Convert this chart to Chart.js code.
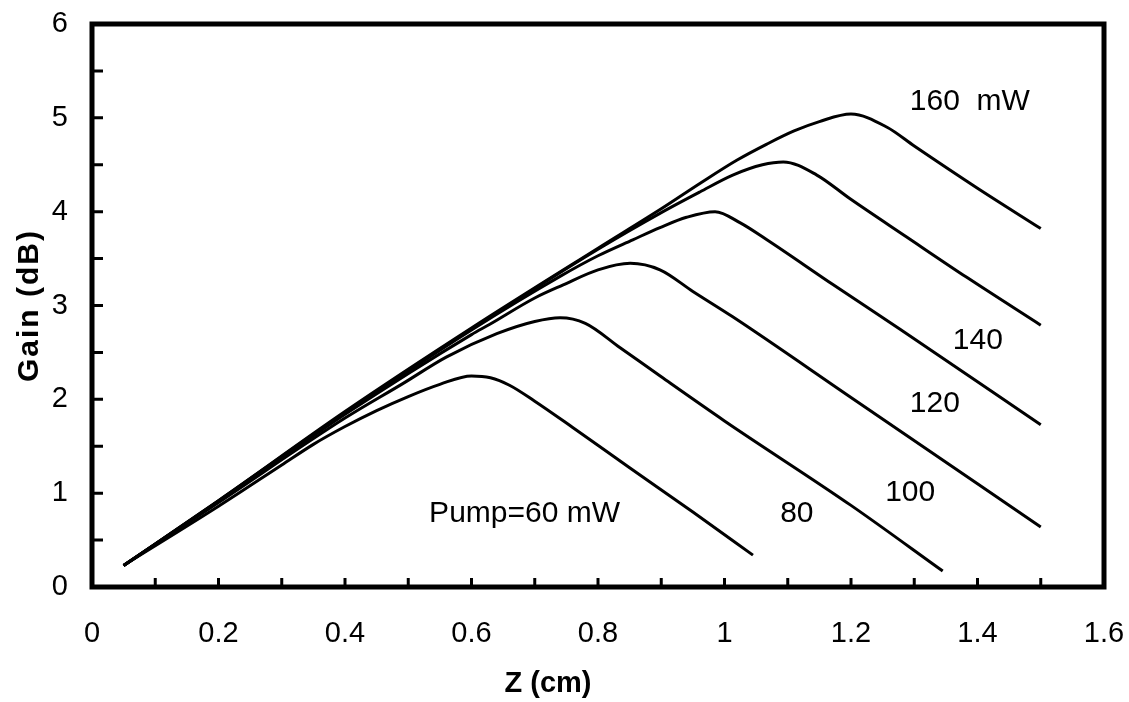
<!DOCTYPE html>
<html>
<head>
<meta charset="utf-8">
<script src="https://cdn.jsdelivr.net/npm/chart.js@4.4.1/dist/chart.umd.min.js"></script>
<style>
    html, body { margin: 0; padding: 0; background: #fff; }
    #wrap { width: 1129px; height: 702px; }
</style>
</head>
<body>
<div id="wrap"><canvas id="gainChart" width="1129" height="702"></canvas></div>
<script>
// Gain vs. propagation length for several pump powers

const z60  = [0.05, 0.2, 0.3, 0.35, 0.4, 0.45, 0.5, 0.55, 0.6, 0.63, 0.66, 0.7, 0.76, 0.85, 0.95, 1.045];
const g60  = [0.23, 0.86, 1.30, 1.52, 1.71, 1.88, 2.03, 2.16, 2.25, 2.23, 2.15, 1.98, 1.70, 1.27, 0.80, 0.34];

const z80  = [0.05, 0.2, 0.4, 0.492, 0.56, 0.64, 0.70, 0.74, 0.78, 0.835, 0.9, 1.0, 1.2, 1.345];
const g80  = [0.23, 0.90, 1.80, 2.17, 2.45, 2.70, 2.83, 2.87, 2.81, 2.55, 2.24, 1.77, 0.87, 0.17];

const z100 = [0.05, 0.2, 0.4, 0.6, 0.629, 0.7, 0.745, 0.8, 0.851, 0.898, 0.95, 1.013, 1.2, 1.5];
const g100 = [0.23, 0.91, 1.84, 2.69, 2.80, 3.08, 3.22, 3.38, 3.45, 3.38, 3.15, 2.88, 2.02, 0.64];

const z120 = [0.05, 0.2, 0.4, 0.6, 0.74, 0.8, 0.855, 0.898, 0.94, 0.985, 1.025, 1.067, 1.172, 1.277, 1.5];
const g120 = [0.23, 0.91, 1.85, 2.74, 3.31, 3.53, 3.70, 3.83, 3.94, 4.00, 3.88, 3.70, 3.22, 2.75, 1.73];

const z140 = [0.05, 0.2, 0.4, 0.6, 0.8, 0.9, 0.961, 1.013, 1.06, 1.093, 1.146, 1.198, 1.288, 1.383, 1.5];
const g140 = [0.23, 0.92, 1.86, 2.75, 3.60, 3.99, 4.21, 4.39, 4.50, 4.53, 4.39, 4.14, 3.73, 3.30, 2.79];

const z160 = [0.05, 0.2, 0.4, 0.6, 0.8, 0.9, 0.961, 1.02, 1.067, 1.11, 1.15, 1.2, 1.257, 1.3, 1.4, 1.5];
const g160 = [0.23, 0.92, 1.87, 2.76, 3.61, 4.03, 4.30, 4.55, 4.72, 4.86, 4.96, 5.04, 4.90, 4.70, 4.25, 3.82];

const xTickLabels = ['0', '0.2', '0.4', '0.6', '0.8', '1', '1.2', '1.4', '1.6'];
const yTickLabels = ['0', '1', '2', '3', '4', '5', '6'];

// curve annotations: text, left edge (z), vertical middle (gain)
const curveLabels = ['Pump=60 mW', '80', '100', '120', '140', '160  mW'];
const labelZ      = [0.533, 1.088, 1.254, 1.293, 1.361, 1.293];
const labelGain   = [0.78, 0.78, 1.00, 1.95, 2.62, 5.17];

const FONT = '"Liberation Sans", Arial, sans-serif';

function toPoints(zs, gs) {
    return zs.map((z, i) => ({ x: z, y: gs[i] }));
}

function curve(zs, gs) {
    return {
        data: toPoints(zs, gs),
        showLine: true,
        borderColor: '#000',
        borderWidth: 3,
        pointRadius: 0,
        cubicInterpolationMode: 'monotone',
        fill: false,
    };
}

const framePlugin = {
    id: 'frame',
    afterDraw(chart) {
        const { ctx, chartArea: a, scales: { x, y } } = chart;
        ctx.save();
        ctx.strokeStyle = '#000';
        ctx.lineWidth = 5;
        ctx.lineJoin = 'miter';
        ctx.strokeRect(a.left, a.top, a.right - a.left, a.bottom - a.top);

        // inward ticks
        ctx.lineWidth = 3;
        ctx.beginPath();
        for (let v = 0.5; v < 6; v += 0.5) {
            const py = y.getPixelForValue(v);
            ctx.moveTo(a.left, py);
            ctx.lineTo(a.left + 11, py);
        }
        for (let v = 0.1; v < 1.55; v += 0.1) {
            const px = x.getPixelForValue(v);
            ctx.moveTo(px, a.bottom);
            ctx.lineTo(px, a.bottom - 9);
        }
        ctx.stroke();

        // curve labels
        ctx.fillStyle = '#000';
        ctx.font = '30px ' + FONT;
        ctx.textAlign = 'left';
        ctx.textBaseline = 'middle';
        curveLabels.forEach((t, i) => {
            ctx.fillText(t, x.getPixelForValue(labelZ[i]), y.getPixelForValue(labelGain[i]));
        });

        // axis titles
        ctx.font = 'bold 29px ' + FONT;
        ctx.textAlign = 'center';
        ctx.fillText('Z (cm)', 548, 684);
        ctx.font = 'bold 30px ' + FONT;
        ctx.letterSpacing = '2px';
        ctx.translate(30, (a.top + a.bottom) / 2);
        ctx.rotate(-Math.PI / 2);
        ctx.fillText('Gain (dB)', 0, 0);
        ctx.restore();
    }
};

new Chart(document.getElementById('gainChart'), {
    type: 'scatter',
    data: {
        datasets: [
            curve(z60, g60),
            curve(z80, g80),
            curve(z100, g100),
            curve(z120, g120),
            curve(z140, g140),
            curve(z160, g160),
        ]
    },
    options: {
        responsive: false,
        animation: false,
        layout: { padding: { top: 24, right: 25, left: 0, bottom: 0 } },
        plugins: { legend: { display: false }, tooltip: { enabled: false } },
        scales: {
            x: {
                type: 'linear',
                min: 0, max: 1.6,
                afterFit: s => { s.height = 115; s.paddingLeft = 0; s.paddingRight = 0; },
                grid: { display: false, drawTicks: false },
                border: { display: false },
                ticks: {
                    stepSize: 0.2,
                    padding: 30,
                    color: '#000',
                    font: { family: FONT, size: 29 },
                    maxRotation: 0,
                    callback: (v, i) => xTickLabels[i],
                },
            },
            y: {
                type: 'linear',
                min: 0, max: 6,
                afterFit: s => { s.width = 92; s.paddingTop = 0; s.paddingBottom = 0; },
                grid: { display: false, drawTicks: false },
                border: { display: false },
                ticks: {
                    stepSize: 1,
                    padding: 24,
                    color: '#000',
                    font: { family: FONT, size: 29 },
                    callback: (v, i) => yTickLabels[i],
                },
            },
        },
    },
    plugins: [framePlugin],
});
</script>
</body>
</html>
